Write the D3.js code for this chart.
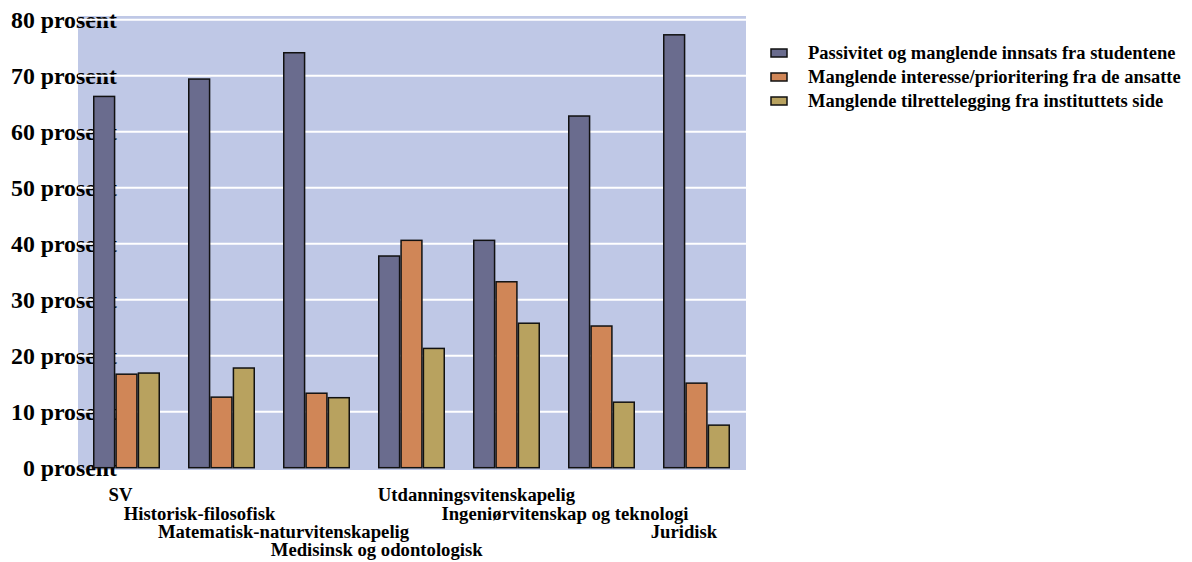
<!DOCTYPE html>
<html>
<head>
<meta charset="utf-8">
<script src="https://cdn.jsdelivr.net/npm/d3@7"></script>
<style>
  html, body { margin: 0; padding: 0; background: #ffffff; }
  svg { display: block; font-family: "Liberation Serif", "Times New Roman", serif; font-weight: bold; }
</style>
</head>
<body>
<svg id="chart" width="1192" height="562"></svg>
<script>
// Fakulteter
const categories = [
  "SV",
  "Historisk-filosofisk",
  "Matematisk-naturvitenskapelig",
  "Medisinsk og odontologisk",
  "Utdanningsvitenskapelig",
  "Ingeniørvitenskap og teknologi",
  "Juridisk"
];

// Serienavn (tegnforklaring)
const seriesNames = [
  "Passivitet og manglende innsats fra studentene",
  "Manglende interesse/prioritering fra de ansatte",
  "Manglende tilrettelegging fra instituttets side"
];

// Prosentverdier per serie, i samme rekkefølge som fakultetene
const passivitet   = [66.3, 69.4, 74.1, 37.8, 40.6, 62.8, 77.3];
const interesse    = [16.7, 12.6, 13.3, 40.6, 33.2, 25.3, 15.1];
const tilrettelegg = [16.9, 17.8, 12.5, 21.3, 25.8, 11.7, 7.6];

const yTicks = [0, 10, 20, 30, 40, 50, 60, 70, 80];
const yTickLabels = yTicks.map(v => v + " prosent");

const seriesValues = [passivitet, interesse, tilrettelegg];
const colors = ["#6a6c8e", "#d08657", "#b8a25f"];

const svg = d3.select("#chart");

// Plottområde
const plot = { left: 78, right: 746, top: 16, bottom: 470 };

const x = d3.scaleBand().domain(categories).range([78, 743]);
const xInner = d3.scaleBand().domain(d3.range(seriesNames.length)).range([15, 82]);
const y = d3.scaleLinear().domain([0, 80]).range([467.7, 19.7]);

// Bakgrunn
svg.append("rect")
  .attr("x", plot.left).attr("y", plot.top)
  .attr("width", plot.right - plot.left).attr("height", plot.bottom - plot.top)
  .attr("fill", "#bfc8e6");

// Y-akse tekst
const yAxis = d3.axisLeft(y).tickValues(yTicks).tickSize(0).tickPadding(0)
  .tickFormat((d, i) => yTickLabels[i]);
const yg = svg.append("g").attr("transform", "translate(117,0)").call(yAxis);
yg.select(".domain").remove();
yg.selectAll("text")
  .attr("font-family", "Liberation Serif, Times New Roman, serif")
  .attr("font-weight", "bold")
  .attr("font-size", 23.8)
  .attr("fill", "#000")
  .attr("dy", "0.34em");

// Rutenett
svg.append("g").selectAll("line")
  .data(yTicks.filter(v => v > 0))
  .join("line")
  .attr("x1", plot.left).attr("x2", plot.right)
  .attr("y1", d => y(d)).attr("y2", d => y(d))
  .attr("stroke", "#ffffff").attr("stroke-width", 2);

// Søyler
const groups = svg.append("g").selectAll("g")
  .data(categories)
  .join("g")
  .attr("transform", d => `translate(${x(d)},0)`);

groups.selectAll("rect")
  .data((c, ci) => seriesValues.map((vals, si) => ({ si, v: vals[ci] })))
  .join("rect")
  .attr("x", d => xInner(d.si) + 0.75)
  .attr("width", xInner.bandwidth() - 1.5)
  .attr("y", d => y(d.v))
  .attr("height", d => y(0) - y(d.v))
  .attr("fill", d => colors[d.si])
  .attr("stroke", "#111")
  .attr("stroke-width", 1.5);

// Kategorietiketter, forskjøvet i fire rader
const labelDx = [42.5, 26.5, 15.5, 13.7, 18.5, 12, 36];
const rowY = [494, 513, 531.5, 549.5];
svg.append("g").selectAll("text")
  .data(categories)
  .join("text")
  .attr("x", (d, i) => x(d) + labelDx[i])
  .attr("y", (d, i) => rowY[i % 4])
  .attr("dy", "0.35em")
  .attr("text-anchor", "middle")
  .attr("font-size", 18.7)
  .attr("fill", "#000")
  .text(d => d);

// Tegnforklaring
const legend = svg.append("g").attr("transform", "translate(771,0)");
const legendY = [53, 77, 101];
legend.selectAll("rect")
  .data(seriesNames)
  .join("rect")
  .attr("x", 0).attr("y", (d, i) => legendY[i] - 4)
  .attr("width", 16).attr("height", 8)
  .attr("fill", (d, i) => colors[i])
  .attr("stroke", "#111").attr("stroke-width", 1.5);
legend.selectAll("text")
  .data(seriesNames)
  .join("text")
  .attr("x", 37).attr("y", (d, i) => legendY[i])
  .attr("dy", "0.35em")
  .attr("font-size", 18.5)
  .attr("fill", "#000")
  .text(d => d);
</script>
</body>
</html>
